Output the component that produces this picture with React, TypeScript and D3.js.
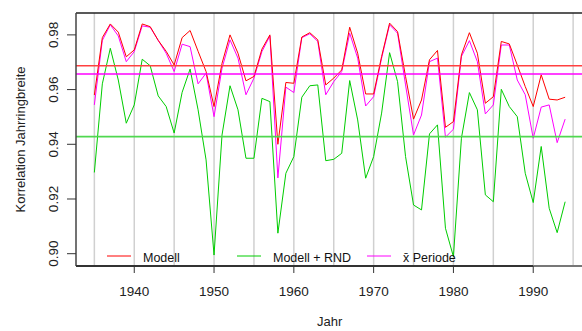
import React from "react";
import * as d3 from "d3";

// Jahre 1935 - 1994
const years = d3.range(1935, 1995);

// Modell (rot)
const modell = [
  0.958, 0.979, 0.984, 0.981, 0.972, 0.9745, 0.984, 0.983, 0.978, 0.974,
  0.969, 0.979, 0.9816, 0.974, 0.9666, 0.9538, 0.9696, 0.98, 0.9733, 0.9632,
  0.9648, 0.9748, 0.98, 0.94, 0.9626, 0.9623, 0.9792, 0.9808, 0.9782, 0.9617,
  0.9642, 0.9672, 0.9828, 0.9733, 0.9584, 0.9584, 0.9721, 0.9843, 0.9812, 0.9648,
  0.9492, 0.9562, 0.9709, 0.9743, 0.9462, 0.9483, 0.9727, 0.9808, 0.9733, 0.955,
  0.9574, 0.9776, 0.9767, 0.969, 0.9611, 0.9538, 0.9654, 0.9565, 0.9562, 0.9572,
];

// Modell + RND (gruen)
const modellRnd = [
  0.9297, 0.9621, 0.9751, 0.9635, 0.9477, 0.9544, 0.9711, 0.9687, 0.9577, 0.9538,
  0.9441, 0.959, 0.9675, 0.9526, 0.9343, 0.8995, 0.9434, 0.9614, 0.9526, 0.9349,
  0.9349, 0.9568, 0.9556, 0.9075, 0.9294, 0.9355, 0.9572, 0.9614, 0.9617, 0.934,
  0.9345, 0.9367, 0.9633, 0.9489, 0.9276, 0.9355, 0.9514, 0.9735, 0.9629, 0.9355,
  0.9178, 0.916, 0.9438, 0.9471, 0.9093, 0.8989, 0.9422, 0.9589, 0.9526, 0.9215,
  0.919, 0.9601, 0.9538, 0.9501, 0.9294, 0.9187, 0.9392, 0.9166, 0.9077, 0.919,
];

// x-quer Periode (magenta)
const periode = [
  0.9544, 0.978, 0.9837, 0.9796, 0.9702, 0.9739, 0.9833, 0.9828, 0.978, 0.9733,
  0.9666, 0.9766, 0.9757, 0.9621, 0.966, 0.9501, 0.9678, 0.9782, 0.9715, 0.9581,
  0.9642, 0.9739, 0.9796, 0.9277, 0.9609, 0.9589, 0.979, 0.9804, 0.9776, 0.9581,
  0.9629, 0.9666, 0.9806, 0.9715, 0.954, 0.9574, 0.9715, 0.9837, 0.9806, 0.9617,
  0.9434, 0.9507, 0.9702, 0.9715, 0.9426, 0.9455, 0.9721, 0.9779, 0.9702, 0.9511,
  0.9544, 0.9763, 0.9763, 0.9635, 0.9581, 0.9422, 0.9536, 0.9544, 0.9406, 0.9492,
];

// Mittelwerte (horizontale Linien)
const meanModell = 0.9687;
const meanPeriode = 0.9657;
const meanRnd = 0.9428;

const xTicks = [1940, 1950, 1960, 1970, 1980, 1990];
const yTicks = [0.9, 0.92, 0.94, 0.96, 0.98];
const gridYears = d3.range(1935, 2000, 5);

const legendLabels = ["Modell", "Modell + RND", "x\u0304 Periode"];
const colors = ["#ff0000", "#00cd00", "#ff00ff"];

const W = 582, H = 331;
const left = 76, right = 583.5, top = 13, bottom = 266;
const font = "'Liberation Sans', Arial, Helvetica, sans-serif";

export default function App() {
  const x = d3.scaleLinear().domain([1932.7, 1996.3]).range([left, right]);
  const y = d3.scaleLinear().domain([0.8955, 0.988]).range([bottom, top]);

  const line = (vals: number[]) =>
    d3.line<number>().x((_, i) => x(years[i])).y((d) => y(d))(vals) || "";

  return (
    <svg width={W} height={H} style={{ position: "absolute", left: 0, top: 0, background: "#fff" }}
      fontFamily={font}>
      {/* grey verticals */}
      {gridYears.map((yr) => (
        <line key={yr} x1={x(yr)} x2={x(yr)} y1={top} y2={bottom} stroke="#d0d0d0" strokeWidth={1.5} />
      ))}

      {/* series */}
      <path d={line(modellRnd)} fill="none" stroke={colors[1]} strokeWidth={1} />
      <path d={line(periode)} fill="none" stroke={colors[2]} strokeWidth={1} />
      <path d={line(modell)} fill="none" stroke={colors[0]} strokeWidth={1} />

      {/* means */}
      <line x1={left} x2={right} y1={y(meanModell)} y2={y(meanModell)} stroke="#ff4040" strokeWidth={1.6} />
      <line x1={left} x2={right} y1={y(meanPeriode)} y2={y(meanPeriode)} stroke="#ff00ff" strokeWidth={1.3} />
      <line x1={left} x2={right} y1={y(meanRnd)} y2={y(meanRnd)} stroke="#50d850" strokeWidth={1.6} />

      {/* box */}
      <line x1={left} x2={right} y1={top} y2={top} stroke="#222" strokeWidth={1.5} />
      <line x1={left} x2={left} y1={top} y2={bottom} stroke="#444" strokeWidth={1.5} />
      <line x1={left} x2={x(1990)} y1={bottom} y2={bottom} stroke="#333" strokeWidth={2} />
      <line x1={x(1990)} x2={right} y1={bottom} y2={bottom} stroke="#777" strokeWidth={2} />

      {/* x axis */}
      {xTicks.map((t) => (
        <g key={t}>
          <line x1={x(t)} x2={x(t)} y1={bottom} y2={bottom + 7} stroke="#333" />
          <text x={x(t)} y={296} textAnchor="middle" fontSize={13.5} fill="#222">{t}</text>
        </g>
      ))}
      <text x={(left + right) / 2} y={326} textAnchor="middle" fontSize={13} fill="#222">Jahr</text>

      {/* y axis */}
      {yTicks.map((t) => (
        <g key={t}>
          <line x1={left - 9} x2={left} y1={y(t)} y2={y(t)} stroke="#333" />
          <text transform={`translate(58,${y(t)}) rotate(-90)`} textAnchor="middle" fontSize={13.5} fill="#222">
            {t.toFixed(2)}
          </text>
        </g>
      ))}
      <text transform={`translate(25,${(top + bottom) / 2}) rotate(-90)`} textAnchor="middle" fontSize={13} fill="#222">
        Korrelation Jahrringbreite
      </text>

      {/* legend */}
      {legendLabels.map((lab, i) => {
        const lx = 107 + i * 130;
        return (
          <g key={lab}>
            <line x1={lx} x2={lx + 24} y1={256} y2={256} stroke={colors[i]} strokeWidth={1} />
            <text x={lx + 36} y={261.5} fontSize={12.5} fill="#111">{lab}</text>
          </g>
        );
      })}
    </svg>
  );
}
